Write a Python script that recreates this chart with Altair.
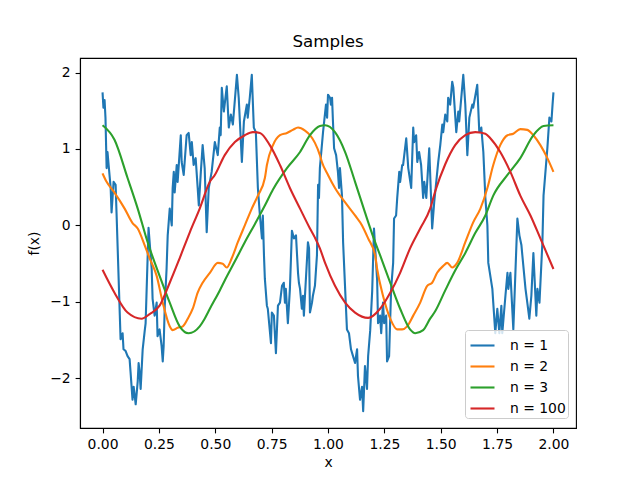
import altair as alt
import pandas as pd

# n = 1 sample
x1 = [0.000, 0.004, 0.009, 0.013, 0.018, 0.022, 0.027, 0.036, 0.040, 0.049, 0.058, 0.062,
      0.080, 0.089, 0.093, 0.102, 0.111, 0.120, 0.124, 0.133, 0.138, 0.147, 0.156, 0.160,
      0.164, 0.169, 0.173, 0.178, 0.187, 0.191, 0.204, 0.218, 0.222, 0.231, 0.240, 0.244,
      0.253, 0.262, 0.267, 0.271, 0.276, 0.284, 0.289, 0.298, 0.307, 0.311, 0.316, 0.320,
      0.329, 0.333, 0.347, 0.351, 0.360, 0.373, 0.382, 0.391, 0.396, 0.404, 0.413, 0.422,
      0.427, 0.436, 0.444, 0.453, 0.462, 0.471, 0.484, 0.498, 0.511, 0.520, 0.524, 0.529,
      0.538, 0.551, 0.560, 0.569, 0.578, 0.596, 0.604, 0.618, 0.627, 0.640, 0.644, 0.653,
      0.662, 0.671, 0.680, 0.689, 0.698, 0.707, 0.711, 0.716, 0.720, 0.729, 0.733, 0.747,
      0.751, 0.760, 0.769, 0.778, 0.787, 0.796, 0.804, 0.809, 0.813, 0.822, 0.831, 0.840,
      0.849, 0.858, 0.867, 0.871, 0.876, 0.884, 0.889, 0.893, 0.911, 0.916, 0.920, 0.929,
      0.933, 0.942, 0.951, 0.956, 0.960, 0.964, 0.969, 0.978, 0.991, 0.996, 1.000,
      1.009, 1.013, 1.018, 1.022, 1.027, 1.036, 1.044, 1.049, 1.053, 1.062, 1.067, 1.076,
      1.084, 1.093, 1.102, 1.111, 1.120, 1.129, 1.133, 1.142, 1.151, 1.156, 1.164, 1.173,
      1.178, 1.187, 1.196, 1.204, 1.218, 1.222, 1.231, 1.236, 1.244, 1.249, 1.258, 1.262,
      1.271, 1.280, 1.289, 1.293, 1.302, 1.307, 1.316, 1.320, 1.329, 1.333, 1.347, 1.356,
      1.369, 1.378, 1.382, 1.391, 1.396, 1.404, 1.413, 1.422, 1.427, 1.436, 1.449, 1.462,
      1.471, 1.489, 1.498, 1.507, 1.511, 1.520, 1.529, 1.533, 1.542, 1.551, 1.556, 1.569,
      1.578, 1.582, 1.600, 1.609, 1.618, 1.627, 1.640, 1.644, 1.662, 1.671, 1.680, 1.689,
      1.698, 1.707, 1.711, 1.729, 1.733, 1.742, 1.751, 1.760, 1.769, 1.773, 1.787, 1.796,
      1.800, 1.809, 1.822, 1.840, 1.849, 1.858, 1.862, 1.876, 1.884, 1.893, 1.902, 1.911,
      1.924, 1.929, 1.938, 1.951, 1.956, 1.973, 1.982, 1.991, 1.996, 2.000]
y1 = [1.74, 1.54, 1.64, 1.41, 0.75, 0.96, 0.79, 0.49, 0.17, 0.57, 0.53, 0.17,
      -1.49, -1.41, -1.62, -1.64, -1.71, -1.75, -1.91, -2.28, -2.11, -2.34, -2.04, -1.80,
      -1.91, -2.14, -1.91, -1.62, -1.38, -1.28, -0.03, -0.57, -0.96, -1.18, -1.01, -1.45,
      -1.36, -1.58, -1.78, -1.58, -1.05, -0.57, -0.13, 0.22, 0.00, 0.49, 0.70, 0.43,
      0.79, 0.57, 1.18, 0.83, 0.66, 1.18, 1.21, 0.92, 1.09, 0.79, 0.88, 0.49,
      0.26, 0.70, 1.05, 0.75, -0.09, 0.49, 0.70, 1.09, 0.92, 1.28, 1.18, 1.80,
      1.49, 1.82, 1.28, 1.45, 1.32, 1.97, 1.67, 0.83, 1.36, 1.58, 1.41, 1.67,
      1.97, 1.28, 1.22, 0.49, 0.13, -0.17, 0.13, -0.39, -0.70, -1.05, -1.09, -1.54,
      -1.14, -1.18, -1.67, -1.05, -1.01, -0.79, -0.75, -1.01, -0.83, -1.28, -0.83, -0.07,
      -0.17, -0.13, -0.62, -0.75, -0.83, -1.09, -0.92, -1.18, -0.22, -0.30, -1.14, -1.01,
      -0.92, -0.79, -0.39, 0.53, 0.36, 0.75, 0.92, 1.22, 1.58, 1.41, 1.71,
      1.67, 1.58, 1.67, 1.36, 1.01, 0.92, 0.70, 0.49, 0.75, 0.39, -0.22, -0.83,
      -1.36, -1.41, -1.62, -1.71, -1.80, -1.62, -1.97, -2.28, -2.11, -2.43, -1.84, -2.14,
      -1.71, -1.38, -0.86, -0.04, -0.72, -1.28, -1.18, -1.41, -1.01, -1.28, -1.18, -1.78,
      -1.71, -0.83, -0.49, 0.09, 0.13, 0.36, 0.70, 0.57, 0.79, 0.79, 1.14, 0.75,
      0.49, 1.28, 1.09, 1.18, 0.83, 0.96, 0.79, 0.36, 0.57, 0.36, 1.01, -0.04,
      0.30, 0.83, 1.05, 1.32, 1.22, 1.45, 1.36, 1.67, 1.58, 1.88, 1.80, 1.22,
      1.49, 1.36, 1.97, 1.58, 0.92, 1.41, 1.58, 1.54, 1.84, 1.22, 1.28, 0.96,
      0.36, 0.00, -0.49, -0.83, -1.01, -1.41, -1.09, -1.41, -1.05, -1.41, -0.92, -0.62,
      -0.83, -0.62, -1.36, 0.09, -0.13, -0.26, -0.39, -0.83, -1.01, -1.22, -0.92, -0.36,
      -1.18, -0.83, -1.01, -0.22, 0.39, 1.01, 1.41, 1.36, 1.58, 1.74]

# n = 2 sample
x2 = [0.000, 0.018, 0.053, 0.098, 0.133, 0.156, 0.187, 0.209, 0.240, 0.267, 0.298, 0.311,
      0.333, 0.356, 0.378, 0.400, 0.422, 0.444, 0.476, 0.511, 0.533, 0.551, 0.573, 0.600,
      0.631, 0.662, 0.689, 0.720, 0.729, 0.756, 0.787, 0.818, 0.844, 0.867, 0.898, 0.920,
      0.942, 0.964, 0.973, 1.000, 1.031, 1.076, 1.120, 1.151, 1.178, 1.209, 1.218, 1.244,
      1.276, 1.307, 1.329, 1.351, 1.378, 1.409, 1.440, 1.462, 1.484, 1.511, 1.529, 1.551,
      1.573, 1.609, 1.644, 1.676, 1.707, 1.733, 1.764, 1.796, 1.822, 1.853, 1.884, 1.911,
      1.942, 1.973, 2.000]
y2 = [0.68, 0.57, 0.43, 0.22, 0.03, -0.04, -0.26, -0.43, -0.66, -1.01, -1.32, -1.37,
      -1.34, -1.32, -1.22, -1.09, -0.88, -0.75, -0.62, -0.49, -0.50, -0.55, -0.43, -0.22,
      0.00, 0.22, 0.39, 0.62, 0.79, 1.05, 1.18, 1.21, 1.25, 1.28, 1.24, 1.18,
      1.08, 0.92, 0.83, 0.66, 0.49, 0.30, 0.13, 0.00, -0.17, -0.39, -0.57, -0.92,
      -1.22, -1.36, -1.36, -1.32, -1.18, -1.01, -0.79, -0.75, -0.62, -0.53, -0.49, -0.55,
      -0.49, -0.22, 0.04, 0.22, 0.49, 0.79, 1.05, 1.18, 1.20, 1.26, 1.25, 1.18,
      1.05, 0.88, 0.70]

# n = 3 sample
x3 = [0.000, 0.053, 0.111, 0.156, 0.200, 0.253, 0.298, 0.342, 0.382, 0.431, 0.453, 0.476,
      0.520, 0.542, 0.587, 0.631, 0.676, 0.720, 0.756, 0.818, 0.876, 0.920, 0.964, 0.987,
      1.031, 1.076, 1.120, 1.164, 1.209, 1.231, 1.276, 1.320, 1.364, 1.387, 1.422, 1.453,
      1.476, 1.520, 1.564, 1.609, 1.653, 1.698, 1.733, 1.796, 1.853, 1.911, 1.956, 2.000]
y3 = [1.31, 1.12, 0.62, 0.22, -0.22, -0.66, -1.01, -1.32, -1.41, -1.32, -1.22, -1.09,
      -0.85, -0.72, -0.47, -0.22, 0.02, 0.26, 0.47, 0.75, 0.96, 1.18, 1.30, 1.31,
      1.22, 0.96, 0.57, 0.17, -0.22, -0.39, -0.75, -1.09, -1.36, -1.41, -1.37, -1.22,
      -1.12, -0.85, -0.59, -0.36, -0.10, 0.13, 0.39, 0.66, 0.88, 1.18, 1.30, 1.31]

# n = 100 sample
x4 = [0.000, 0.053, 0.111, 0.173, 0.209, 0.253, 0.298, 0.342, 0.387, 0.431, 0.476, 0.498,
      0.542, 0.587, 0.631, 0.667, 0.698, 0.742, 0.787, 0.831, 0.876, 0.920, 0.942, 0.964,
      0.987, 1.031, 1.076, 1.120, 1.178, 1.231, 1.276, 1.320, 1.364, 1.409, 1.453, 1.476,
      1.520, 1.564, 1.609, 1.653, 1.698, 1.720, 1.764, 1.809, 1.853, 1.898, 1.942, 2.000]
y4 = [-0.58, -0.88, -1.14, -1.22, -1.16, -1.05, -0.75, -0.43, -0.09, 0.22, 0.57, 0.66,
      0.92, 1.09, 1.18, 1.22, 1.21, 1.05, 0.79, 0.49, 0.22, -0.04, -0.16, -0.30,
      -0.49, -0.79, -1.01, -1.14, -1.21, -1.09, -0.88, -0.62, -0.30, -0.04, 0.22, 0.45,
      0.80, 1.05, 1.18, 1.22, 1.20, 1.14, 0.96, 0.70, 0.39, 0.13, -0.17, -0.57]

labels = ["n = 1", "n = 2", "n = 3", "n = 100"]
colors = ["#1f77b4", "#ff7f0e", "#2ca02c", "#d62728"]
interp = ["linear", "monotone", "monotone", "monotone"]
x_ticks = [0.0, 0.25, 0.5, 0.75, 1.0, 1.25, 1.5, 1.75, 2.0]
y_ticks = [-2, -1, 0, 1, 2]

frames = []
for lab, xs, ys in zip(labels, [x1, x2, x3, x4], [y1, y2, y3, y4]):
    frames.append(pd.DataFrame({"x": xs, "f": ys, "series": lab, "idx": range(len(xs))}))
df = pd.concat(frames, ignore_index=True)

FONT = "DejaVu Sans"
color_enc = alt.Color(
    "series:N",
    scale=alt.Scale(domain=labels, range=colors),
    legend=alt.Legend(
        title=None, orient="none", legendX=385, legendY=272,
        symbolType="stroke", symbolSize=576, symbolStrokeWidth=2.1, symbolOffset=2,
        labelFont=FONT, labelFontSize=13.9, labelColor="black", labelOffset=14,
        rowPadding=-5.4, padding=2, fillColor="rgba(255,255,255,0.8)",
        strokeColor="#cccccc", cornerRadius=3,
    ),
)

layers = []
for lab, ip in zip(labels, interp):
    layers.append(
        alt.Chart(df).transform_filter(alt.datum.series == lab)
        .mark_line(strokeWidth=2.1, strokeJoin="round", interpolate=ip)
        .encode(
            x=alt.X("x:Q", scale=alt.Scale(domain=[-0.1, 2.1], nice=False, zero=False),
                    axis=alt.Axis(values=x_ticks, format=".2f", title="x")),
            y=alt.Y("f:Q", scale=alt.Scale(domain=[-2.65, 2.19], nice=False, zero=False),
                    axis=alt.Axis(values=y_ticks, format="d", title="f(x)")),
            color=color_enc,
            order="idx:Q",
        )
    )

chart = alt.layer(*layers).properties(
    width=496, height=370,
    title=alt.TitleParams("Samples", font=FONT, fontSize=16.7, fontWeight="normal",
                          color="black", anchor="middle", frame="group", offset=7),
    autosize=alt.AutoSizeParams(type="none"),
    padding={"left": 72, "top": 50, "right": 56, "bottom": 45},
).configure_view(
    stroke="black", strokeWidth=1.1
).configure_axis(
    grid=False, domainColor="black", domainWidth=1.1, tickColor="black",
    tickSize=4.9, tickWidth=1.1, labelPadding=4.9, labelFont=FONT, labelFontSize=13.9,
    labelColor="black", titleFont=FONT, titleFontSize=13.9, titleFontWeight="normal",
    titleColor="black",
).configure_axisX(titlePadding=4).configure_axisY(titlePadding=8)

chart.save("out.html", embed_options={"renderer": "svg", "actions": False})
